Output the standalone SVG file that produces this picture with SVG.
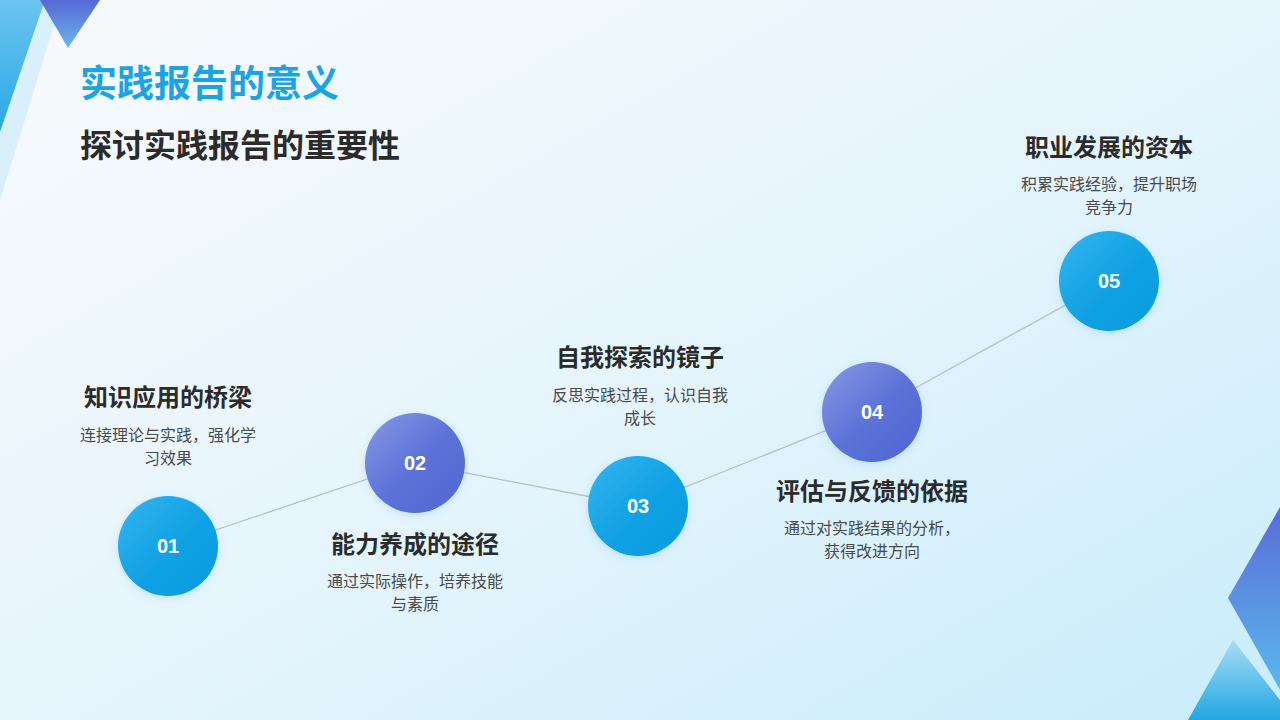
<svg xmlns="http://www.w3.org/2000/svg" width="1280" height="720" viewBox="0 0 1280 720">
<defs>
<linearGradient id="bg" x1="0" y1="0" x2="1" y2="1">
<stop offset="0" stop-color="#f8fafc"/>
<stop offset="0.5" stop-color="#e6f5fc"/>
<stop offset="1" stop-color="#c9ecfb"/>
</linearGradient>
<linearGradient id="gBlue" x1="0" y1="0" x2="1" y2="1">
<stop offset="0" stop-color="#36b6f0"/>
<stop offset="0.5" stop-color="#12a2e4"/>
<stop offset="1" stop-color="#0a9be0"/>
</linearGradient>
<linearGradient id="gPurple" x1="0" y1="0" x2="1" y2="1">
<stop offset="0" stop-color="#8a9ae4"/>
<stop offset="0.5" stop-color="#5d73d8"/>
<stop offset="1" stop-color="#4f66d2"/>
</linearGradient>
<linearGradient id="triTop" x1="0" y1="0" x2="0" y2="1">
<stop offset="0" stop-color="#5668d6"/>
<stop offset="1" stop-color="#6cb6ec"/>
</linearGradient>
<linearGradient id="triLeft" x1="0" y1="0" x2="0" y2="1">
<stop offset="0" stop-color="#6cc4f0"/>
<stop offset="1" stop-color="#2aa8e4"/>
</linearGradient>
<linearGradient id="triRight" x1="0" y1="0" x2="0" y2="1">
<stop offset="0" stop-color="#5a6cd8"/>
<stop offset="1" stop-color="#5ab8ec"/>
</linearGradient>
<linearGradient id="triSmall" x1="0" y1="0" x2="0" y2="1">
<stop offset="0" stop-color="#a9ddf6"/>
<stop offset="1" stop-color="#22a6e2"/>
</linearGradient>
<filter id="glow" x="-30%" y="-30%" width="160%" height="160%">
<feGaussianBlur in="SourceAlpha" stdDeviation="4"/>
<feOffset dx="0" dy="2" result="b"/>
<feFlood flood-color="#4aa8e8" flood-opacity="0.25"/>
<feComposite in2="b" operator="in"/>
<feMerge><feMergeNode/><feMergeNode in="SourceGraphic"/></feMerge>
</filter>
</defs>
<style>
.title{font-family:"Noto Sans CJK SC","Noto Sans",sans-serif;font-weight:700;}
.head{font-family:"Noto Sans CJK SC","Noto Sans",sans-serif;font-weight:700;font-size:24px;fill:#2b2b2b;text-anchor:middle;}
.desc{font-family:"Noto Sans CJK SC","Noto Sans",sans-serif;font-size:16px;fill:#4a4a4a;text-anchor:middle;}
.num{font-family:"Liberation Sans",Arial,sans-serif;font-weight:700;font-size:20px;fill:#ffffff;text-anchor:middle;}
.conn{stroke:#b3bfca;stroke-width:1.3;fill:none;}
</style>
<rect width="1280" height="720" fill="url(#bg)"/>
<g id="decor">
<polygon points="0,0 62,0 0,200" fill="#c6e9f9" opacity="0.6"/>
<polygon points="0,0 45,0 0,132" fill="url(#triLeft)"/>
<polygon points="40,0 100,0 68,48" fill="url(#triTop)"/>
<polygon points="1280,507 1228,598 1280,690" fill="url(#triRight)"/>
<polygon points="1233,640 1188,720 1280,720 1280,700" fill="url(#triSmall)"/>
</g>
<g id="titles">
<text x="80" y="97" class="title" font-size="37" fill="#1ba3e2">实践报告的意义</text>
<text x="80" y="157" class="title" font-size="32" fill="#2b2b2b">探讨实践报告的重要性</text>
</g>
<g id="connectors">
<line class="conn" x1="168" y1="546" x2="415" y2="463"/>
<line class="conn" x1="415" y1="463" x2="638" y2="506"/>
<line class="conn" x1="638" y1="506" x2="872" y2="412"/>
<line class="conn" x1="872" y1="412" x2="1109" y2="281"/>
</g>
<g id="node1">
<circle cx="168" cy="546" r="50" fill="url(#gBlue)" filter="url(#glow)"/>
<text x="168" y="553" class="num">01</text>
<text x="168" y="406" class="head">知识应用的桥梁</text>
<text x="168" y="441" class="desc">连接理论与实践，强化学</text>
<text x="168" y="464" class="desc">习效果</text>
</g>
<g id="node2">
<circle cx="415" cy="463" r="50" fill="url(#gPurple)" filter="url(#glow)"/>
<text x="415" y="470" class="num">02</text>
<text x="415" y="553" class="head">能力养成的途径</text>
<text x="415" y="587" class="desc">通过实际操作，培养技能</text>
<text x="415" y="610" class="desc">与素质</text>
</g>
<g id="node3">
<circle cx="638" cy="506" r="50" fill="url(#gBlue)" filter="url(#glow)"/>
<text x="638" y="513" class="num">03</text>
<text x="640" y="366" class="head">自我探索的镜子</text>
<text x="640" y="401" class="desc">反思实践过程，认识自我</text>
<text x="640" y="424" class="desc">成长</text>
</g>
<g id="node4">
<circle cx="872" cy="412" r="50" fill="url(#gPurple)" filter="url(#glow)"/>
<text x="872" y="419" class="num">04</text>
<text x="872" y="500" class="head">评估与反馈的依据</text>
<text x="872" y="534" class="desc">通过对实践结果的分析，</text>
<text x="872" y="557" class="desc">获得改进方向</text>
</g>
<g id="node5">
<circle cx="1109" cy="281" r="50" fill="url(#gBlue)" filter="url(#glow)"/>
<text x="1109" y="288" class="num">05</text>
<text x="1109" y="156" class="head">职业发展的资本</text>
<text x="1109" y="190" class="desc">积累实践经验，提升职场</text>
<text x="1109" y="213" class="desc">竞争力</text>
</g>
</svg>
